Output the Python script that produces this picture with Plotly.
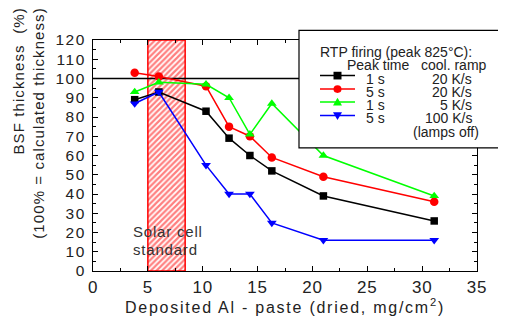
import plotly.graph_objects as go

# ---- data ----
x_paste = [3.8, 6.0, 10.3, 12.4, 14.3, 16.3, 21.0, 31.1]
bsf_1s_20K = [89, 93, 83, 69, 60, 52, 39, 26]
bsf_5s_20K = [103, 101, 96, 75, 70, 59, 49, 36]
bsf_1s_5K = [93, 98, 97, 90, 71, 87, 60, 39]
bsf_5s_100K = [87, 93, 55, 40, 40, 25, 16, 16]
solar_std_range = [5.0, 8.4]
ref_level = 100
y_ticks = list(range(0, 121, 10))
x_ticks = list(range(0, 36, 5))

series = [
    ("1 s", "20 K/s", bsf_1s_20K, "black", "square", 7.5),
    ("5 s", "20 K/s", bsf_5s_20K, "#ff0000", "circle", 8.5),
    ("1 s", "5 K/s", bsf_1s_5K, "#00ff00", "triangle-up", 8.5),
    ("5 s", "100 K/s", bsf_5s_100K, "#0000ff", "triangle-down", 8.5),
]

FONT = "Liberation Sans, Arial, sans-serif"
# page is 506x324; the html body has an 8px margin
OFF = 8
PAGE_W, PAGE_H = 506, 324
W, H = PAGE_W - OFF, PAGE_H - OFF
# plot area in page pixels
PL, PR, PT, PB = 93, 477, 40, 280
L, R, T, B = PL - OFF, PAGE_W - PR, PT - OFF, PAGE_H - PB
PW, PH = PR - PL, PB - PT


def px(xp):
    return (xp - PL) / PW


def py(yp):
    return (PB - yp) / PH


def spaced(s, ls):
    return "<span style='letter-spacing:{}px'>{}</span>".format(ls, s)


fig = go.Figure()

# hatched solar cell standard region
x0s, x1s = solar_std_range
fig.add_trace(go.Scatter(
    x=[x0s, x1s, x1s, x0s, x0s], y=[0, 0, 120, 120, 0],
    mode="lines", fill="toself",
    fillpattern=dict(shape="/", fgcolor="#ff0000", bgcolor="white", size=4, solidity=0.55),
    fillcolor="white",
    line=dict(color="#ff0000", width=1.5), hoverinfo="skip", showlegend=False))

# reference 100% line
fig.add_trace(go.Scatter(x=[0, 35], y=[ref_level, ref_level], mode="lines",
                         line=dict(color="black", width=1.5), showlegend=False))

for pt, ramp, vals, col, sym, sz in series:
    fig.add_trace(go.Scatter(
        x=x_paste, y=vals, mode="lines+markers",
        line=dict(color=col, width=1.5),
        marker=dict(color=col, symbol=sym, size=sz),
        showlegend=False, cliponaxis=False))

LF = dict(family=FONT, size=14, color="#222")
shapes = []
# legend box
shapes.append(dict(type="rect", xref="paper", yref="paper", layer="above",
                   x0=px(299), x1=px(512), y0=py(152), y1=py(30),
                   line=dict(color="black", width=1.2), fillcolor="white"))
annotations = []


def ann(x, y, text, xanchor, font=LF, dy=3):
    annotations.append(dict(x=px(x), y=py(y + dy), xref="paper", yref="paper",
                            text=text, showarrow=False, borderpad=0,
                            xanchor=xanchor, yanchor="middle", font=font))


ann(319, 49, "RTP firing (peak 825°C):", "left")
ann(346, 63, "Peak time", "left")
ann(488, 63, "cool. ramp", "right")
rows_y = [77, 91, 104.5, 118.5]
for (pt, ramp, vals, col, sym, sz), ry in zip(series, rows_y):
    shapes.append(dict(type="line", xref="paper", yref="paper", layer="above",
                       x0=px(320), x1=px(355), y0=py(ry), y1=py(ry),
                       line=dict(color=col, width=1.5)))
    cx = 337.5
    r = 4
    if sym == "square":
        shapes.append(dict(type="rect", xref="paper", yref="paper", layer="above",
                           x0=px(cx - r), x1=px(cx + r), y0=py(ry + r), y1=py(ry - r),
                           line=dict(color=col, width=0), fillcolor=col))
    elif sym == "circle":
        shapes.append(dict(type="circle", xref="paper", yref="paper", layer="above",
                           x0=px(cx - r), x1=px(cx + r), y0=py(ry + r), y1=py(ry - r),
                           line=dict(color=col, width=0), fillcolor=col))
    else:
        if sym == "triangle-up":
            pts = [(cx - r - 0.5, ry + r - 0.5), (cx + r + 0.5, ry + r - 0.5), (cx, ry - r - 0.5)]
        else:
            pts = [(cx - r - 0.5, ry - r + 0.5), (cx + r + 0.5, ry - r + 0.5), (cx, ry + r + 0.5)]
        path = "M {} {} L {} {} L {} {} Z".format(*[v for p in pts for v in (px(p[0]), py(p[1]))])
        shapes.append(dict(type="path", xref="paper", yref="paper", layer="above",
                           path=path, line=dict(color=col, width=0), fillcolor=col))
    ann(386, ry, pt, "right")
    ann(473, ry, ramp, "right")
ann(480, 132, "(lamps off)", "right", dy=4)

# solar cell standard label
SF = dict(family=FONT, size=15, color="#333")
ann(132, 233, spaced("Solar cell", 0.8), "left", SF, dy=6)
ann(132, 251, spaced("standard", 0.8), "left", SF, dy=7)

# y-axis title
annotations.append(dict(x=px(29), y=py(126), xref="paper", yref="paper",
                        text=spaced("BSF thickness  (%)", 1.1) + "<br>" +
                        spaced("(100% = calculated thickness)", 1.1),
                        showarrow=False, textangle=-90, align="right",
                        xanchor="center", yanchor="middle",
                        font=dict(family=FONT, size=15, color="#222")))

axis_common = dict(showline=True, linecolor="black", linewidth=1.2, mirror="ticks",
                   ticks="inside", ticklen=5, tickwidth=1, tickcolor="black",
                   showgrid=False, zeroline=False)

fig.update_layout(
    width=W, height=H,
    margin=dict(l=L, r=R, t=T, b=B),
    paper_bgcolor="white", plot_bgcolor="white",
    shapes=shapes, annotations=annotations,
    xaxis=dict(range=[0, 35], tickmode="array", tickvals=x_ticks,
               ticktext=[spaced(str(v), 0.8) for v in x_ticks],
               tickfont=dict(family=FONT, size=17, color="#222"),
               minor=dict(dtick=2.5, ticks="inside", ticklen=3, tickcolor="black"),
               title=dict(text=spaced("Deposited Al - paste (dried, mg/cm<sup>2</sup>)", 1.75),
                          font=dict(family=FONT, size=16, color="#222"), standoff=4),
               **axis_common),
    yaxis=dict(range=[0, 120], tickmode="array", tickvals=y_ticks,
               ticktext=[spaced(str(v), 1.5) for v in y_ticks],
               tickfont=dict(family=FONT, size=15.5, color="#222"),
               ticklabelstandoff=3,
               minor=dict(dtick=5, ticks="inside", ticklen=3, tickcolor="black"),
               **axis_common),
    showlegend=False,
)

fig.write_html("out.html")
